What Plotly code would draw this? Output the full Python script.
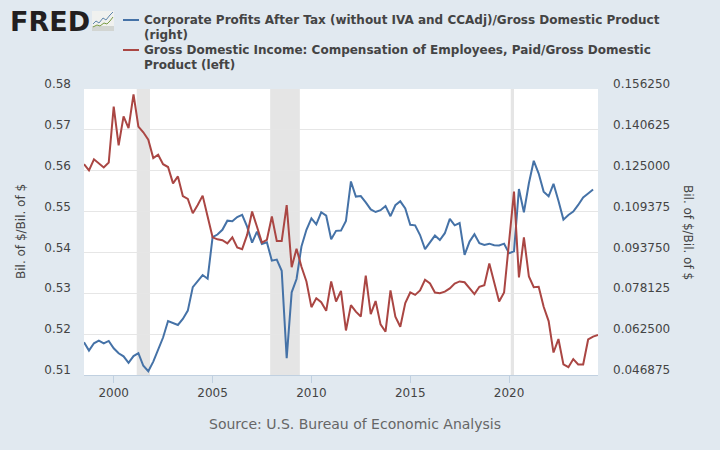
import pandas as pd
import plotly.graph_objects as go

corporate_profits = [
    0.0594, 0.0562, 0.0590, 0.0600, 0.0590, 0.0599, 0.0571, 0.0552, 0.0540, 0.0515,
    0.0541, 0.0552, 0.0504, 0.0483, 0.0520, 0.0564, 0.0612, 0.0675, 0.0666, 0.0660,
    0.0683, 0.0715, 0.0805, 0.0826, 0.0851, 0.0837, 0.0996, 0.1006, 0.1024, 0.1059,
    0.1057, 0.1073, 0.1081, 0.1036, 0.0975, 0.1017, 0.0970, 0.0976, 0.0906, 0.0910,
    0.0867, 0.0533, 0.0785, 0.0836, 0.0960, 0.1024, 0.1068, 0.1045, 0.1091, 0.1078,
    0.0988, 0.1020, 0.1021, 0.1058, 0.1209, 0.1151, 0.1153, 0.1129, 0.1102, 0.1092,
    0.1099, 0.1115, 0.1076, 0.1118, 0.1133, 0.1106, 0.1043, 0.1041, 0.1004, 0.0950,
    0.0976, 0.1002, 0.0985, 0.1011, 0.1066, 0.1041, 0.1050, 0.0928, 0.0979, 0.1007,
    0.0973, 0.0966, 0.0971, 0.0965, 0.0964, 0.0971, 0.0934, 0.0942, 0.1180, 0.1091,
    0.1202, 0.1288, 0.1239, 0.1170, 0.1152, 0.1200, 0.1135, 0.1063, 0.1081, 0.1094,
    0.1119, 0.1148, 0.1163, 0.1178,
]
compensation = [
    0.5616, 0.5601, 0.5628, 0.5618, 0.5608, 0.5620, 0.5757, 0.5662, 0.5733, 0.5704,
    0.5787, 0.5708, 0.5694, 0.5676, 0.5631, 0.5639, 0.5616, 0.5609, 0.5569, 0.5586,
    0.5538, 0.5531, 0.5496, 0.5516, 0.5539, 0.5488, 0.5437, 0.5432, 0.5430, 0.5422,
    0.5437, 0.5412, 0.5408, 0.5443, 0.5500, 0.5463, 0.5424, 0.5431, 0.5488, 0.5428,
    0.5428, 0.5516, 0.5364, 0.5409, 0.5365, 0.5329, 0.5266, 0.5288, 0.5278, 0.5257,
    0.5329, 0.5280, 0.5306, 0.5209, 0.5271, 0.5255, 0.5243, 0.5343, 0.5249, 0.5281,
    0.5224, 0.5206, 0.5307, 0.5243, 0.5218, 0.5276, 0.5302, 0.5296, 0.5307, 0.5333,
    0.5324, 0.5302, 0.5300, 0.5304, 0.5312, 0.5324, 0.5329, 0.5327, 0.5312, 0.5298,
    0.5316, 0.5320, 0.5373, 0.5324, 0.5280, 0.5302, 0.5427, 0.5549, 0.5339, 0.5437,
    0.5341, 0.5315, 0.5316, 0.5267, 0.5232, 0.5155, 0.5188, 0.5126, 0.5119, 0.5139,
    0.5126, 0.5126, 0.5187, 0.5194, 0.5198,
]
dates = [d.strftime("%Y-%m-%d") for d in pd.date_range("1998-07-01", periods=len(compensation), freq="QS")]
left_ticks = [0.51, 0.52, 0.53, 0.54, 0.55, 0.56, 0.57, 0.58]
right_ticks = [0.046875, 0.0625, 0.078125, 0.09375, 0.109375, 0.125, 0.140625, 0.15625]
year_ticks = ["2000-01-01", "2005-01-01", "2010-01-01", "2015-01-01", "2020-01-01"]
year_labels = ["2000", "2005", "2010", "2015", "2020"]
recessions = [("2001-03-01", "2001-11-01"), ("2007-12-01", "2009-06-01"), ("2020-02-01", "2020-04-01")]
legend_lines = [
    "Corporate Profits After Tax (without IVA and CCAdj)/Gross Domestic Product",
    "(right)",
    "Gross Domestic Income: Compensation of Employees, Paid/Gross Domestic",
    "Product (left)",
]
source = "Source: U.S. Bureau of Economic Analysis"
axis_unit = "Bil. of $/Bil. of $"

BG = "#e1e9f0"
FONT = "DejaVu Sans"
TXT = "#444444"
BLUE = "#4572a7"
RED = "#aa4643"
W, H, ML, MR, MT, MB = 720, 450, 84, 122, 89, 75


def px(x):
    return (x - ML) / (W - ML - MR)


def py(y):
    return (H - MB - y) / (H - MT - MB)


def logo_path(points):
    return "M" + " L".join(f"{px(x):.4f},{py(y):.4f}" for x, y in points)


fig = go.Figure()
fig.add_trace(go.Scatter(x=dates[:len(corporate_profits)], y=corporate_profits, mode="lines",
                         name=legend_lines[0] + " " + legend_lines[1],
                         line=dict(color=BLUE, width=2), yaxis="y"))
fig.add_trace(go.Scatter(x=dates, y=compensation, mode="lines",
                         name=legend_lines[2] + " " + legend_lines[3],
                         line=dict(color=RED, width=2), yaxis="y2"))
for start, end in recessions:
    fig.add_shape(type="rect", xref="x", yref="paper", x0=start, x1=end, y0=0, y1=1,
                  fillcolor="#e5e5e5", line_width=0, layer="between")
for y, color in [(20, BLUE), (50, RED)]:
    fig.add_shape(type="line", xref="paper", yref="paper", x0=px(123), x1=px(139), y0=py(y), y1=py(y),
                  line=dict(color=color, width=2))
# FRED logo badge
fig.add_shape(type="rect", xref="paper", yref="paper", x0=px(92), x1=px(114), y0=py(31), y1=py(11),
              fillcolor="#f0f1ef", line_width=0)
fig.add_shape(type="rect", xref="paper", yref="paper", x0=px(92), x1=px(114), y0=py(31), y1=py(26),
              fillcolor="#d2d5d2", line_width=0)
fig.add_shape(type="path", xref="paper", yref="paper", line=dict(color="#5f86ab", width=1),
              path=logo_path([(93, 24), (96, 21), (99, 23), (103, 18), (106, 20), (110, 15), (113, 12)]))
fig.add_shape(type="path", xref="paper", yref="paper", line=dict(color="#7a9c45", width=1),
              path=logo_path([(93, 27), (97, 25), (100, 26), (104, 23), (107, 24), (110, 21), (113, 17)]))

annotations = [
    dict(text=source, xref="paper", yref="paper", x=px(355), y=py(424), xanchor="center", yanchor="middle",
         showarrow=False, font=dict(family=FONT, size=14, color="#666666")),
    dict(text="<b>FRED</b>", xref="paper", yref="paper", x=px(8), y=py(21), xanchor="left", yanchor="middle",
         showarrow=False, font=dict(family=FONT, size=27, color="#231f20")),
    dict(text=axis_unit, xref="paper", yref="paper", x=px(21), y=py(232), textangle=-90, xanchor="center",
         yanchor="middle", showarrow=False, font=dict(family=FONT, size=12, color=TXT)),
    dict(text=axis_unit, xref="paper", yref="paper", x=px(688), y=py(232), textangle=90, xanchor="center",
         yanchor="middle", showarrow=False, font=dict(family=FONT, size=12, color=TXT)),
]
for line, y in zip(legend_lines, [20, 35, 50, 65]):
    annotations.append(dict(text="<b>" + line + "</b>", xref="paper", yref="paper", x=px(142), y=py(y),
                            xanchor="left", yanchor="middle", showarrow=False,
                            font=dict(family=FONT, size=12, color=TXT)))

fig.update_layout(
    width=W, height=H, autosize=False,
    paper_bgcolor=BG, plot_bgcolor="#ffffff",
    margin=dict(l=ML, r=MR, t=MT, b=MB, pad=0),
    font=dict(family=FONT, size=12, color=TXT),
    showlegend=False,
    xaxis=dict(type="date", range=[dates[0], dates[-1]], tickmode="array", tickvals=year_ticks, ticktext=year_labels,
               showgrid=False, ticks="outside", ticklen=7, tickcolor="#c0d0e0", tickwidth=1,
               showline=True, linecolor="#c0d0e0", linewidth=1, zeroline=False,
               tickfont=dict(family=FONT, size=12, color=TXT)),
    yaxis=dict(side="right", range=[right_ticks[0], right_ticks[-1]], tickmode="array", tickvals=right_ticks,
               tickformat=".6f", showgrid=True, gridcolor="#e6e6e6", gridwidth=1, zeroline=False,
               ticks="", ticklabelshift=-5, ticklabelstandoff=14, tickfont=dict(family=FONT, size=12, color=TXT)),
    yaxis2=dict(side="left", overlaying="y", range=[left_ticks[0], left_ticks[-1]], tickmode="array", tickvals=left_ticks,
                tickformat=".2f", showgrid=False, zeroline=False,
                ticks="", ticklabelshift=-5, ticklabelstandoff=12, tickfont=dict(family=FONT, size=12, color=TXT)),
    annotations=annotations,
)
fig.write_html("out.html", config={"displayModeBar": False}, post_script="document.body.style.margin='0';")
